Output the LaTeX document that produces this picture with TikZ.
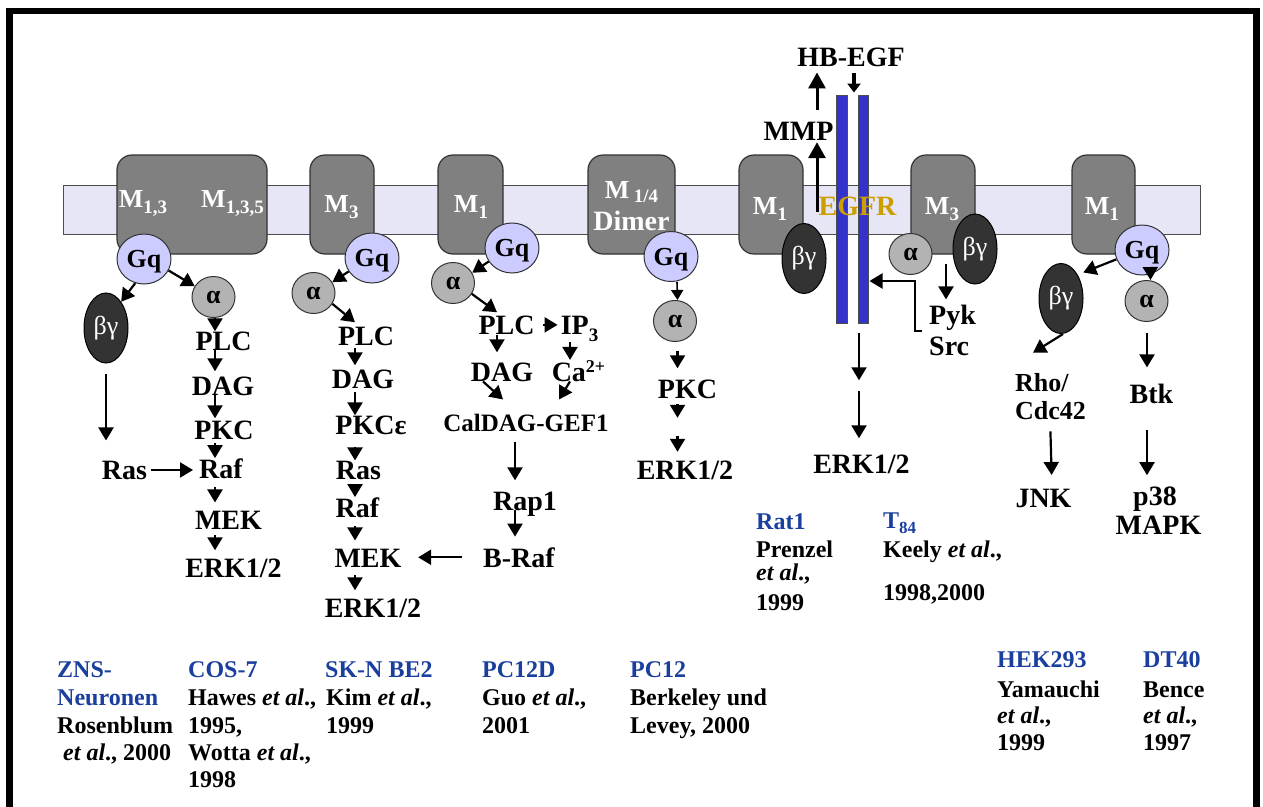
\documentclass[tikz,border=0pt]{standalone}
\usepackage{fontspec}
\setmainfont{Liberation Serif}
\usetikzlibrary{arrows.meta,shapes.geometric}
\definecolor{membr}{HTML}{E6E6F7}
\definecolor{recgray}{HTML}{808080}
\definecolor{gqcol}{HTML}{CCCCFF}
\definecolor{alcol}{HTML}{B3B3B3}
\definecolor{bgcol}{HTML}{333333}
\definecolor{egfrblue}{HTML}{3333CC}
\definecolor{egfrgold}{HTML}{CC9E00}
\definecolor{refblue}{HTML}{1A3F9E}
\newcommand\lowsub[1]{\raisebox{-6pt}{\fontsize{19}{19}\selectfont #1}}
\newcommand\highsup[1]{\raisebox{9pt}{\fontsize{18}{18}\selectfont #1}}
\newcommand\etalx{\textit{et al}.}
\tikzset{
 receptor/.style={draw=black!80, line width=1.2pt, fill=recgray, rounded corners=15pt, minimum height=99pt, inner sep=0pt},
 rlbl/.style={text=white, font=\fontsize{26}{28}\selectfont\bfseries, inner sep=0pt, anchor=base},
 gq/.style={ellipse, draw=black!80, line width=1pt, fill=gqcol, minimum width=54pt, minimum height=50pt, inner sep=0pt, text depth=0pt, font=\fontsize{26}{28}\selectfont\bfseries},
 alph/.style={ellipse, draw=black!80, line width=1pt, fill=alcol, minimum width=43pt, minimum height=41pt, inner sep=0pt, font=\fontsize{26}{28}\selectfont\bfseries},
 bgam/.style={ellipse, draw=black, line width=1pt, fill=bgcol, minimum width=44pt, minimum height=70pt, inner sep=0pt, text=white, font=\fontsize{26}{28}\selectfont},
 lbl/.style={font=\fontsize{28}{30}\selectfont\bfseries, inner sep=0pt, anchor=base},
 lblw/.style={font=\fontsize{28}{30}\selectfont\bfseries, inner sep=0pt, anchor=base west},
 refh/.style={text=refblue, font=\fontsize{24}{26}\selectfont\bfseries, inner sep=0pt, anchor=base west},
 reft/.style={font=\fontsize{24}{26}\selectfont\bfseries, inner sep=0pt, anchor=base west},
 egfrbar/.style={draw=black!70, line width=1pt, fill=egfrblue, minimum height=228pt, inner sep=0pt},
 arr/.style={line width=2.2pt, -{Triangle[length=13pt,width=15pt]}},
 arrsm/.style={line width=1.6pt, -{Triangle[length=10pt,width=12pt]}},
 arrT/.style={line width=3pt, -{Triangle[length=16pt,width=17pt]}},
 arrH/.style={line width=3.5pt, -{Triangle[length=9pt,width=13pt]}},
}
\begin{document}
\begin{tikzpicture}[x=1pt,y=-1pt]
\useasboundingbox (0,0) rectangle (1263,806);
\fill[white] (0,0) rectangle (1263,806);

% membrane
\filldraw[fill=membr, draw=black!70, line width=1pt] (63,185) rectangle (1200,234);

% receptors
\node[receptor, minimum width=150pt] (R1) at (192,204.5) {};
\node[receptor, minimum width=64pt] (R2) at (342,204.5) {};
\node[receptor, minimum width=65pt] (R3) at (470.5,204.5) {};
\node[receptor, minimum width=87pt] (R4) at (631.5,204.5) {};
\node[receptor, minimum width=64pt] (R5) at (771,204.5) {};
\node[receptor, minimum width=64pt] (R6) at (943,204.5) {};
\node[receptor, minimum width=63pt] (R7) at (1103.5,204.5) {};

\node[rlbl] (m13) at (143,207) {M\lowsub{1,3}};
\node[rlbl] (m135) at (232.5,207) {M\lowsub{1,3,5}};
\node[rlbl] (m3a) at (341.5,212) {M\lowsub{3}};
\node[rlbl] (m1a) at (471,212) {M\lowsub{1}};
\node[rlbl] (m14) at (631.5,198) {M\,\raisebox{-4pt}{\fontsize{19}{19}\selectfont 1/4}};
\node[rlbl, font=\fontsize{28}{30}\selectfont\bfseries] (dimer) at (631.5,230) {Dimer};
\node[rlbl] (m1b) at (770,214) {M\lowsub{1}};
\node[rlbl] (m3b) at (942,214) {M\lowsub{3}};
\node[rlbl] (m1c) at (1102,214) {M\lowsub{1}};

% EGFR
\node[egfrbar, minimum width=11pt] (barL) at (841.5,209) {};
\node[egfrbar, minimum width=10pt] (barR) at (863,209) {};
\node[lbl, text=egfrgold] (egfr) at (857.5,215) {EGFR};

% G proteins
\node[gq] (gqA) at (144,259) {Gq};
\node[gq] (gqB) at (372,258) {Gq};
\node[gq] (gqC) at (512,248) {Gq};
\node[gq] (gqD) at (671,256.5) {Gq};
\node[gq] (gqG) at (1142,250) {Gq};
\node[alph] (alA) at (213.5,297) {α};
\node[alph] (alB) at (313.5,293) {α};
\node[alph] (alC) at (453,283) {α};
\node[alph] (alD) at (675,321) {α};
\node[alph] (alF) at (910.5,254) {α};
\node[alph] (alG) at (1146.5,301) {α};
\node[bgam] (bgA) at (106,328) {βγ};
\node[bgam] (bgE) at (804,258.5) {βγ};
\node[bgam] (bgF) at (975,249) {βγ};
\node[bgam] (bgG) at (1061,298.5) {βγ};

% column 1
\node[lbl] (plcA) at (223.5,350) {PLC};
\node[lbl] (dagA) at (223,395) {DAG};
\node[lbl] (pkcA) at (224,439) {PKC};
\node[lbl] (rafA) at (221,478) {Raf};
\node[lbl] (mekA) at (228.5,529) {MEK};
\node[lbl] (erkA) at (233.5,577) {ERK1/2};
\node[lbl] (rasA) at (124.5,479) {Ras};

% column 2
\node[lbl] (plcB) at (366,345) {PLC};
\node[lbl] (dagB) at (363,388) {DAG};
\node[lbl] (pkcB) at (371,434) {PKCε};
\node[lbl] (rasB) at (358.5,479) {Ras};
\node[lbl] (rafB) at (357.5,517) {Raf};
\node[lbl] (mekB) at (368,567) {MEK};
\node[lbl] (erkB) at (373,617) {ERK1/2};

% column 3
\node[lbl] (plcC) at (506.5,334) {PLC};
\node[lbl] (ipC) at (579.5,334) {IP\raisebox{-7pt}{\fontsize{19}{19}\selectfont 3}};
\node[lbl] (dagC) at (502,381) {DAG};
\node[lbl] (caC) at (578.5,381) {Ca\highsup{2+}};
\node[lbl, font=\fontsize{25}{27}\selectfont\bfseries] (calC) at (526,431) {CalDAG-GEF1};
\node[lbl] (rapC) at (525,510) {Rap1};
\node[lbl] (brafC) at (519,567) {B-Raf};

% column 4
\node[lbl] (pkcD) at (687.5,398) {PKC};
\node[lbl] (erkD) at (685,479) {ERK1/2};

% column 5
\node[lbl] (hbegf) at (851,66) {HB-EGF};
\node[lbl] (mmp) at (798.5,140) {MMP};
\node[lbl] (erkE) at (861.5,473) {ERK1/2};
\node[lblw] (pyk) at (929,324) {Pyk};
\node[lblw] (src) at (929,355) {Src};

% column 7
\node[lblw, font=\fontsize{26}{28}\selectfont\bfseries] (rho) at (1015,391) {Rho/};
\node[lblw, font=\fontsize{26}{28}\selectfont\bfseries] (cdc) at (1015,419) {Cdc42};
\node[lbl] (jnk) at (1043.5,507) {JNK};
\node[lbl] (btk) at (1151.5,403) {Btk};
\node[lbl] (p38) at (1155,505) {p38};
\node[lbl] (mapk) at (1158.5,534) {MAPK};

% arrows column 1
\draw[arr] (gqA.250) -- (bgA.60);
\draw[arr] (gqA.-25) -- (alA.150);
\draw[arr] ([xshift=1.5pt]alA.south) -- ([xshift=-8.5pt]plcA.north);
\draw[arr, shorten >=5pt] ([xshift=-8.5pt]plcA.south) -- ([xshift=-8pt]dagA.north);
\draw[arr, shorten >=2pt] ([xshift=-8pt]dagA.south) -- ([xshift=-9pt]pkcA.north);
\draw[arr, shorten <=4pt] ([xshift=-9pt]pkcA.south) -- ([xshift=-6pt]rafA.north);
\draw[arr, shorten <=9pt, shorten >=8pt] ([xshift=-6pt]rafA.south) -- ([xshift=-13.5pt]mekA.north);
\draw[arr, shorten <=6pt, shorten >=8pt] ([xshift=-13.5pt]mekA.south) -- ([xshift=-18.5pt]erkA.north);
\draw[arr, shorten <=10pt, shorten >=20pt] (bgA.south) -- (bgA.south |- rasA.north);
\draw[arr, shorten <=4pt, shorten >=6pt] (rasA.east) -- (rasA.east -| rafA.west);

% arrows column 2
\draw[arr] (gqB.210) -- (alB.30);
\draw[arr] (alB.-30) -- ([xshift=-11pt, yshift=4pt]plcB.north);
\draw[arr, shorten <=3pt, shorten >=4pt] ([xshift=-11pt]plcB.south) -- ([xshift=-8pt]dagB.north);
\draw[arr, shorten <=4pt] ([xshift=-8pt]dagB.south) -- ([xshift=-16pt]pkcB.north);
\draw[arr, shorten <=13pt] ([xshift=-16pt]pkcB.south) -- ([xshift=-3.5pt]rasB.north);
\draw[arr, shorten <=8pt] ([xshift=-3.5pt]rasB.south) -- ([xshift=-2.5pt]rafB.north);
\draw[arr, shorten <=9pt, shorten >=8pt] ([xshift=-2.5pt]rafB.south) -- ([xshift=-13pt]mekB.north);
\draw[arr, shorten <=8pt, shorten >=8pt] ([xshift=-13pt]mekB.south) -- ([xshift=-18pt]erkB.north);

% arrows column 3
\draw[arr] (gqC.210) -- (alC.28);
\draw[arr] (alC.-30) -- ([xshift=-9.5pt, yshift=3pt]plcC.north);
\draw[arr, shorten <=8pt, shorten >=3pt] (plcC.east) -- (plcC.east -| ipC.west);
\draw[arr, shorten <=1pt, shorten >=10pt] ([xshift=-9.5pt]plcC.south) -- ([xshift=-5pt]dagC.north);
\draw[arr, shorten <=1pt] ([xshift=-9.5pt]ipC.south) -- ([xshift=-8.5pt]caC.north);
\draw[arr] ([xshift=-19pt]dagC.south) -- ([xshift=-23pt,yshift=14pt]calC.north);
\draw[arr] ([xshift=-8.5pt]caC.south) -- ([xshift=33pt,yshift=14pt]calC.north);
\draw[arr, shorten <=11pt, shorten >=11pt] ([xshift=-11pt]calC.south) -- ([xshift=-10pt]rapC.north);
\draw[arr, shorten >=10.5pt] ([xshift=-10pt]rapC.base) -- ([xshift=-4pt]brafC.north);
\draw[arr, shorten <=21pt, shorten >=16.5pt] (brafC.west) -- (brafC.west -| mekB.east);

% arrows column 4
\draw[arrsm] ([xshift=6pt]gqD.south) -- ([xshift=2.5pt]alD.north);
\draw[arr, shorten <=9pt, shorten >=11pt] ([xshift=2.5pt]alD.south) -- ([xshift=-10pt]pkcD.north);
\draw[arr, shorten <=6pt, shorten >=42.5pt] ([xshift=-10pt]pkcD.south) -- ([xshift=-7.5pt]erkD.north);
\draw[arr, shorten <=38pt, shorten >=8.5pt] ([xshift=-10pt]pkcD.south) -- ([xshift=-7.5pt]erkD.north);

% arrows column 5 (EGFR)
\coordinate (hbdown) at ([xshift=3pt]hbegf.south);
\draw[arrH, shorten <=7pt, shorten >=2pt] (hbdown) -- (hbdown |- barL.north);
\coordinate (mmpsrc) at (817,212);
\draw[arrT, shorten >=2pt] (mmpsrc) -- (mmpsrc |- mmp.south);
\coordinate (mmptop) at ([xshift=18.5pt]mmp.north);
\draw[arrT, shorten <=11pt, shorten >=6pt] (mmptop) -- (mmptop |- hbegf.south);
\draw[arr, shorten <=9pt, shorten >=74pt] ([xshift=-4pt]barR.south) -- ([xshift=-2.5pt]erkE.north);
\draw[arr, shorten <=67pt, shorten >=16pt] ([xshift=-4pt]barR.south) -- ([xshift=-2.5pt]erkE.north);
\coordinate (pykIn) at ([xshift=3pt]R6.south);
\draw[arr, shorten <=9pt, shorten >=5pt] (pykIn) -- (pykIn |- pyk.north);
\coordinate (elbow) at (915,281);
\draw[arr, shorten >=1pt] ([xshift=-7pt,yshift=5pt]src.north west) -| (elbow) -- (elbow -| barR.east);

% arrows column 7
\draw[arr, shorten >=6pt] (gqG.200) -- (bgG.55);
\draw[arr, shorten <=17pt] ([xshift=8pt]gqG.center) -- ([xshift=4pt]alG.north);
\draw[arr] ([xshift=2pt]bgG.south) -- ([xshift=-9pt,yshift=20pt]rho.north);
\draw[arr, shorten <=12pt, shorten >=13.5pt] ([xshift=-0.5pt]cdc.south) -- ([xshift=8.5pt]jnk.north);
\draw[arr, shorten <=10.5pt, shorten >=16pt] ([xshift=0.5pt]alG.south) -- ([xshift=-4.5pt]btk.north);
\draw[arr, shorten <=27pt, shorten >=11pt] ([xshift=-4.5pt]btk.base) -- ([xshift=-8pt]p38.north);

% references (middle)
\node[refh] (r1h) at (756,529) {Rat1};
\node[reft] (r1a) at (756,557) {Prenzel};
\node[reft] (r1b) at (756,580) {\etalx,};
\node[reft] (r1c) at (756,610) {1999};
\node[refh] (t84h) at (883,528) {T\raisebox{-5pt}{\fontsize{17}{17}\selectfont 84}};
\node[reft] (t84a) at (883,557) {Keely \etalx,};
\node[reft] (t84b) at (883,600) {1998,2000};

% references (bottom)
\node[refh] (zh) at (57,677) {ZNS-};
\node[refh] (zh2) at (57,705) {Neuronen};
\node[reft] (za) at (57,733) {Rosenblum};
\node[reft] (zb) at (63,760) {\etalx, 2000};
\node[refh] (ch) at (188,677) {COS-7};
\node[reft] (ca) at (188,705) {Hawes \etalx,};
\node[reft] (cb) at (188,733) {1995,};
\node[reft] (cc) at (188,760) {Wotta \etalx,};
\node[reft] (cd) at (188,787) {1998};
\node[refh] (sh) at (325,677) {SK-N BE2};
\node[reft] (sa) at (326,705) {Kim \etalx,};
\node[reft] (sb) at (326,733) {1999};
\node[refh] (ph) at (482,677) {PC12D};
\node[reft] (pa) at (482,705) {Guo \etalx,};
\node[reft] (pb) at (482,733) {2001};
\node[refh] (qh) at (630,677) {PC12};
\node[reft] (qa) at (630,705) {Berkeley und};
\node[reft] (qb) at (630,733) {Levey, 2000};
\node[refh] (hh) at (997,667) {HEK293};
\node[reft] (ha) at (997,697) {Yamauchi};
\node[reft] (hb) at (997,723) {\etalx,};
\node[reft] (hc) at (997,750) {1999};
\node[refh] (dh) at (1143,667) {DT40};
\node[reft] (da) at (1143,697) {Bence};
\node[reft] (db) at (1143,723) {\etalx,};
\node[reft] (dc) at (1143,750) {1997};

% frame
\draw[line width=6.5pt, line join=miter] (9.5,815) -- (9.5,10.75) -- (1256.5,10.75) -- (1256.5,815);
\end{tikzpicture}
\end{document}
